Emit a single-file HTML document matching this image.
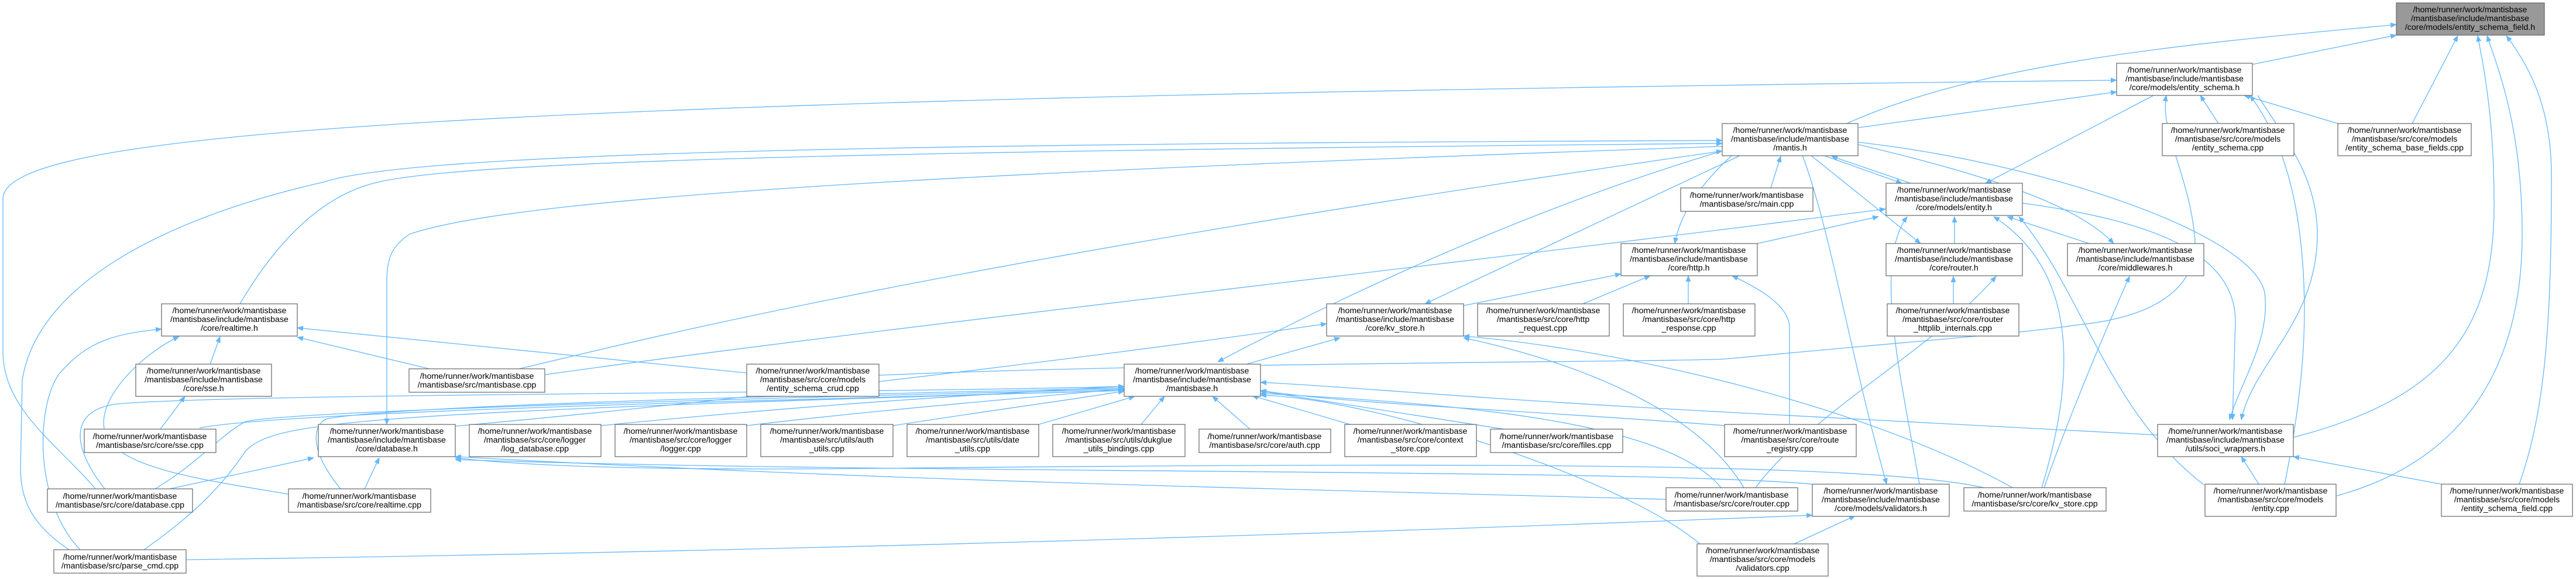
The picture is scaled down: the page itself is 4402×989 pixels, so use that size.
<!DOCTYPE html>
<html><head><meta charset="utf-8"><style>
html,body{margin:0;padding:0;background:#fff;}
svg{display:block;}
text{font-family:"Liberation Sans",sans-serif;font-size:14.2px;fill:#000;text-anchor:middle;}
.e{fill:none;stroke:#63b8ff;stroke-width:1.3;marker-end:url(#a);}
.n{fill:#fff;stroke:#666;stroke-width:1.2;}
.g{fill:#999;stroke:#666;stroke-width:1.2;}
</style></head><body>
<svg width="4402" height="989" viewBox="0 0 4402 989" xmlns="http://www.w3.org/2000/svg">
<defs><marker id="a" markerWidth="11" markerHeight="9" refX="10" refY="4.5" orient="auto" markerUnits="userSpaceOnUse"><path d="M0,0 L11,4.5 L0,9z" fill="#63b8ff"/></marker></defs>
<g>
<path class="e" d="M3156,211 C3400,100 3800,70 4095,42"/>
<path class="e" d="M3849,110 L4095,60"/>
<path class="e" d="M4122,211 L4200,61"/>
<path class="e" d="M3919,747 C4180,680 4262,560 4262,350 C4262,200 4245,120 4234,61"/>
<path class="e" d="M3993,847 C4200,790 4310,640 4310,400 C4310,220 4270,120 4250,61"/>
<path class="e" d="M4305,827 C4350,700 4360,550 4360,300 C4360,180 4320,110 4283,61"/>
<path class="e" d="M163,835 C100,760 5,700 5,600 L5,340 C5,230 700,170 3617,137"/>
<path class="e" d="M3176,218 L3617,157"/>
<path class="e" d="M3680,163 L3393,313"/>
<path class="e" d="M3791,211 L3760,163"/>
<path class="e" d="M3995,211 L3835,163"/>
<path class="e" d="M1502,641 C2000,619 2900,618 2950,613 C3300,580 3450,570 3550,555 C3700,540 3760,480 3750,400 C3740,300 3690,220 3702,163"/>
<path class="e" d="M3858,163 C3900,230 3960,300 3960,400 C3960,550 3850,620 3830,717"/>
<path class="e" d="M3904,827 C3940,650 3945,520 3930,400 C3915,280 3880,210 3845,163"/>
<path class="e" d="M118,939 C60,900 35,860 35,800 L38,650 C60,500 250,380 553,311 C700,262 1500,245 2943,240"/>
<path class="e" d="M137,939 C60,860 60,700 100,640 C150,580 200,570 276,562"/>
<path class="e" d="M410,519 C480,400 560,330 647,311 C800,275 1500,258 2943,245"/>
<path class="e" d="M2943,250 C1800,290 900,330 700,400 C670,420 661,440 661,480 L661,725"/>
<path class="e" d="M887,630 C1100,580 1600,450 2943,258"/>
<path class="e" d="M1276,637 L508,560"/>
<path class="e" d="M734,630 L508,576"/>
<path class="e" d="M359,622 L376,575"/>
<path class="e" d="M274,733 L316,677"/>
<path class="e" d="M493,844 C350,820 200,800 180,740 C160,680 250,600 306,575"/>
<path class="e" d="M290,835 L536,782"/>
<path class="e" d="M623,835 L648,782"/>
<path class="e" d="M179,835 C120,760 120,700 200,690 C400,672 1500,672 1921,660"/>
<path class="e" d="M582,835 C520,760 540,720 560,715 C700,690 1500,672 1921,663"/>
<path class="e" d="M265,835 C340,790 380,740 420,720 C500,700 1500,675 1921,665"/>
<path class="e" d="M246,939 C330,880 380,830 420,770 C470,720 600,705 1921,667"/>
<path class="e" d="M341,731 C500,700 1500,680 1921,667"/>
<path class="e" d="M3687,743 L2950,704 C2500,680 2300,660 2154,653"/>
<path class="e" d="M778,728 C1200,690 1800,620 2267,553"/>
<path class="e" d="M2130,622 L2290,577"/>
<path class="e" d="M2943,258 C2700,330 2400,450 2081,618"/>
<path class="e" d="M2975,265 L2435,519"/>
<path class="e" d="M2960,265 C2900,320 2870,370 2862,416"/>
<path class="e" d="M3026,321 L3043,267"/>
<path class="e" d="M3115,265 L3250,313"/>
<path class="e" d="M3265,313 L3130,267"/>
<path class="e" d="M3094,265 L3282,416"/>
<path class="e" d="M3176,247 C3400,300 3550,350 3612,416"/>
<path class="e" d="M3176,243 C3500,280 3850,400 3870,500 C3880,580 3830,650 3810,717"/>
<path class="e" d="M3080,265 C3130,400 3160,600 3224,827"/>
<path class="e" d="M3456,347 C3700,380 3820,440 3820,550 L3815,717"/>
<path class="e" d="M3340,416 L3340,370"/>
<path class="e" d="M3570,416 L3430,370"/>
<path class="e" d="M3003,416 L3210,370"/>
<path class="e" d="M931,640 C1500,560 2500,450 3222,357"/>
<path class="e" d="M2501,522 L2770,468"/>
<path class="e" d="M2705,519 L2820,471"/>
<path class="e" d="M2885,519 L2885,471"/>
<path class="e" d="M3338,519 L3338,472"/>
<path class="e" d="M3058,724 L3058,560 C3058,520 3000,490 2960,471"/>
<path class="e" d="M3493,833 C3540,700 3600,560 3639,472"/>
<path class="e" d="M3489,833 C3560,600 3530,450 3407,370"/>
<path class="e" d="M3000,833 C3100,700 3300,600 3411,472"/>
<path class="e" d="M3280,827 C3250,650 3200,450 3259,370"/>
<path class="e" d="M3066,929 L3170,881"/>
<path class="e" d="M318,956 C1500,940 2600,900 3097,880"/>
<path class="e" d="M2847,853 C2000,830 1500,820 778,780"/>
<path class="e" d="M3390,833 C3200,790 2500,790 1500,800 C1000,805 850,790 778,782"/>
<path class="e" d="M3097,827 C2800,800 1500,810 778,785"/>
<path class="e" d="M2948,727 C2600,700 2300,690 2154,667"/>
<path class="e" d="M2942,834 C2850,720 2500,690 2154,672"/>
<path class="e" d="M2907,931 C2780,820 2350,680 2154,675"/>
<path class="e" d="M3439,833 C3200,700 2800,600 2501,574"/>
<path class="e" d="M2980,833 C2900,700 2700,620 2501,577"/>
<path class="e" d="M1950,725 L1990,677"/>
<path class="e" d="M2136,733 L2072,677"/>
<path class="e" d="M2307,725 L2140,676"/>
<path class="e" d="M2570,733 L2154,668"/>
<path class="e" d="M1027,727 C1400,690 1700,672 1921,660"/>
<path class="e" d="M1276,727 C1500,700 1750,680 1921,664"/>
<path class="e" d="M1526,727 C1700,700 1850,680 1921,668"/>
<path class="e" d="M1775,725 L1939,677"/>
<path class="e" d="M3860,827 L3830,780"/>
<path class="e" d="M4172,827 L3919,780"/>
<path class="e" d="M3766,828 C3600,700 3560,500 3450,370"/>
</g>
<g>
<rect class="g" x="4095" y="5" width="253" height="55"/><text x="4221" y="21">/home/runner/work/mantisbase</text><text x="4221" y="36">/mantisbase/include/mantisbase</text><text x="4221" y="51">/core/models/entity_schema_field.h</text>
<rect class="n" x="3617" y="108" width="232" height="55"/><text x="3733" y="124">/home/runner/work/mantisbase</text><text x="3733" y="139">/mantisbase/include/mantisbase</text><text x="3733" y="154">/core/models/entity_schema.h</text>
<rect class="n" x="2943" y="211" width="232" height="55"/><text x="3059" y="227">/home/runner/work/mantisbase</text><text x="3059" y="242">/mantisbase/include/mantisbase</text><text x="3059" y="257">/mantis.h</text>
<rect class="n" x="3695" y="211" width="225" height="55"/><text x="3807" y="227">/home/runner/work/mantisbase</text><text x="3807" y="242">/mantisbase/src/core/models</text><text x="3807" y="257">/entity_schema.cpp</text>
<rect class="n" x="3995" y="211" width="228" height="55"/><text x="4109" y="227">/home/runner/work/mantisbase</text><text x="4109" y="242">/mantisbase/src/core/models</text><text x="4109" y="257">/entity_schema_base_fields.cpp</text>
<rect class="n" x="3223" y="313" width="233" height="55"/><text x="3339" y="329">/home/runner/work/mantisbase</text><text x="3339" y="344">/mantisbase/include/mantisbase</text><text x="3339" y="359">/core/models/entity.h</text>
<rect class="n" x="2872" y="321" width="226" height="40"/><text x="2985" y="338">/home/runner/work/mantisbase</text><text x="2985" y="353">/mantisbase/src/main.cpp</text>
<rect class="n" x="2770" y="416" width="233" height="55"/><text x="2886" y="432">/home/runner/work/mantisbase</text><text x="2886" y="447">/mantisbase/include/mantisbase</text><text x="2886" y="462">/core/http.h</text>
<rect class="n" x="3223" y="416" width="233" height="55"/><text x="3339" y="432">/home/runner/work/mantisbase</text><text x="3339" y="447">/mantisbase/include/mantisbase</text><text x="3339" y="462">/core/router.h</text>
<rect class="n" x="3533" y="416" width="233" height="55"/><text x="3649" y="432">/home/runner/work/mantisbase</text><text x="3649" y="447">/mantisbase/include/mantisbase</text><text x="3649" y="462">/core/middlewares.h</text>
<rect class="n" x="276" y="519" width="232" height="55"/><text x="392" y="535">/home/runner/work/mantisbase</text><text x="392" y="550">/mantisbase/include/mantisbase</text><text x="392" y="565">/core/realtime.h</text>
<rect class="n" x="2267" y="519" width="234" height="55"/><text x="2384" y="535">/home/runner/work/mantisbase</text><text x="2384" y="550">/mantisbase/include/mantisbase</text><text x="2384" y="565">/core/kv_store.h</text>
<rect class="n" x="2525" y="519" width="225" height="55"/><text x="2637" y="535">/home/runner/work/mantisbase</text><text x="2637" y="550">/mantisbase/src/core/http</text><text x="2637" y="565">_request.cpp</text>
<rect class="n" x="2774" y="519" width="225" height="55"/><text x="2886" y="535">/home/runner/work/mantisbase</text><text x="2886" y="550">/mantisbase/src/core/http</text><text x="2886" y="565">_response.cpp</text>
<rect class="n" x="3225" y="519" width="225" height="55"/><text x="3337" y="535">/home/runner/work/mantisbase</text><text x="3337" y="550">/mantisbase/src/core/router</text><text x="3337" y="565">_httplib_internals.cpp</text>
<rect class="n" x="232" y="622" width="232" height="55"/><text x="348" y="638">/home/runner/work/mantisbase</text><text x="348" y="653">/mantisbase/include/mantisbase</text><text x="348" y="668">/core/sse.h</text>
<rect class="n" x="699" y="630" width="232" height="40"/><text x="815" y="647">/home/runner/work/mantisbase</text><text x="815" y="662">/mantisbase/src/mantisbase.cpp</text>
<rect class="n" x="1276" y="622" width="226" height="55"/><text x="1389" y="638">/home/runner/work/mantisbase</text><text x="1389" y="653">/mantisbase/src/core/models</text><text x="1389" y="668">/entity_schema_crud.cpp</text>
<rect class="n" x="1921" y="622" width="233" height="55"/><text x="2037" y="638">/home/runner/work/mantisbase</text><text x="2037" y="653">/mantisbase/include/mantisbase</text><text x="2037" y="668">/mantisbase.h</text>
<rect class="n" x="144" y="733" width="225" height="40"/><text x="256" y="750">/home/runner/work/mantisbase</text><text x="256" y="765">/mantisbase/src/core/sse.cpp</text>
<rect class="n" x="544" y="725" width="234" height="55"/><text x="661" y="741">/home/runner/work/mantisbase</text><text x="661" y="756">/mantisbase/include/mantisbase</text><text x="661" y="771">/core/database.h</text>
<rect class="n" x="802" y="725" width="225" height="55"/><text x="914" y="741">/home/runner/work/mantisbase</text><text x="914" y="756">/mantisbase/src/core/logger</text><text x="914" y="771">/log_database.cpp</text>
<rect class="n" x="1051" y="725" width="225" height="55"/><text x="1163" y="741">/home/runner/work/mantisbase</text><text x="1163" y="756">/mantisbase/src/core/logger</text><text x="1163" y="771">/logger.cpp</text>
<rect class="n" x="1300" y="725" width="226" height="55"/><text x="1413" y="741">/home/runner/work/mantisbase</text><text x="1413" y="756">/mantisbase/src/utils/auth</text><text x="1413" y="771">_utils.cpp</text>
<rect class="n" x="1550" y="725" width="225" height="55"/><text x="1662" y="741">/home/runner/work/mantisbase</text><text x="1662" y="756">/mantisbase/src/utils/date</text><text x="1662" y="771">_utils.cpp</text>
<rect class="n" x="1799" y="725" width="226" height="55"/><text x="1912" y="741">/home/runner/work/mantisbase</text><text x="1912" y="756">/mantisbase/src/utils/dukglue</text><text x="1912" y="771">_utils_bindings.cpp</text>
<rect class="n" x="2049" y="733" width="225" height="40"/><text x="2161" y="750">/home/runner/work/mantisbase</text><text x="2161" y="765">/mantisbase/src/core/auth.cpp</text>
<rect class="n" x="2298" y="725" width="225" height="55"/><text x="2410" y="741">/home/runner/work/mantisbase</text><text x="2410" y="756">/mantisbase/src/core/context</text><text x="2410" y="771">_store.cpp</text>
<rect class="n" x="2547" y="733" width="226" height="40"/><text x="2660" y="750">/home/runner/work/mantisbase</text><text x="2660" y="765">/mantisbase/src/core/files.cpp</text>
<rect class="n" x="2947" y="725" width="225" height="55"/><text x="3059" y="741">/home/runner/work/mantisbase</text><text x="3059" y="756">/mantisbase/src/core/route</text><text x="3059" y="771">_registry.cpp</text>
<rect class="n" x="3687" y="725" width="232" height="55"/><text x="3803" y="741">/home/runner/work/mantisbase</text><text x="3803" y="756">/mantisbase/include/mantisbase</text><text x="3803" y="771">/utils/soci_wrappers.h</text>
<rect class="n" x="81" y="835" width="248" height="40"/><text x="205" y="852">/home/runner/work/mantisbase</text><text x="205" y="867">/mantisbase/src/core/database.cpp</text>
<rect class="n" x="493" y="835" width="243" height="40"/><text x="614" y="852">/home/runner/work/mantisbase</text><text x="614" y="867">/mantisbase/src/core/realtime.cpp</text>
<rect class="n" x="2847" y="833" width="225" height="40"/><text x="2959" y="850">/home/runner/work/mantisbase</text><text x="2959" y="865">/mantisbase/src/core/router.cpp</text>
<rect class="n" x="3097" y="827" width="234" height="55"/><text x="3214" y="843">/home/runner/work/mantisbase</text><text x="3214" y="858">/mantisbase/include/mantisbase</text><text x="3214" y="873">/core/models/validators.h</text>
<rect class="n" x="3356" y="833" width="243" height="40"/><text x="3477" y="850">/home/runner/work/mantisbase</text><text x="3477" y="865">/mantisbase/src/core/kv_store.cpp</text>
<rect class="n" x="3768" y="827" width="224" height="55"/><text x="3880" y="843">/home/runner/work/mantisbase</text><text x="3880" y="858">/mantisbase/src/core/models</text><text x="3880" y="873">/entity.cpp</text>
<rect class="n" x="4172" y="827" width="224" height="55"/><text x="4284" y="843">/home/runner/work/mantisbase</text><text x="4284" y="858">/mantisbase/src/core/models</text><text x="4284" y="873">/entity_schema_field.cpp</text>
<rect class="n" x="2900" y="929" width="224" height="55"/><text x="3012" y="945">/home/runner/work/mantisbase</text><text x="3012" y="960">/mantisbase/src/core/models</text><text x="3012" y="975">/validators.cpp</text>
<rect class="n" x="92" y="939" width="226" height="40"/><text x="205" y="956">/home/runner/work/mantisbase</text><text x="205" y="971">/mantisbase/src/parse_cmd.cpp</text>
</g>
</svg>
</body></html>
